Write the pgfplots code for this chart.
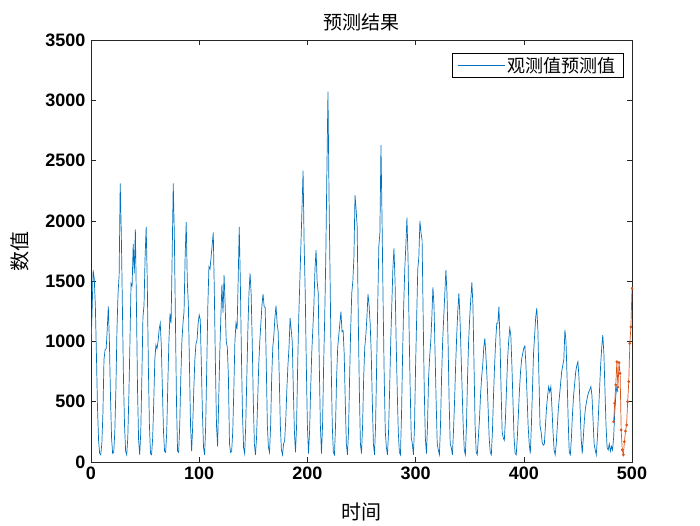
\documentclass[border=0pt]{standalone}
\usepackage{pgfplots}
\pgfplotsset{compat=1.18}
\usepackage{fontspec}
\setmainfont{Liberation Sans}
\newfontfamily\cjk{Noto Sans CJK SC}
\definecolor{mblue}{rgb}{0,0.447,0.741}
\definecolor{morange}{rgb}{0.85,0.325,0.098}
\begin{document}
\begin{tikzpicture}
\path[use as bounding box] (0,0) rectangle (700pt,525pt);
\begin{axis}[
  at={(91pt,63pt)}, anchor=south west,
  width=541pt, height=422pt, scale only axis,
  xmin=0, xmax=500, ymin=0, ymax=3500,
  xtick={0,100,...,500}, ytick={0,500,...,3500},
  tick align=inside, major tick length=5pt,
  axis line style={line width=0.6pt, black!85},
  every tick/.style={line width=0.6pt, black!85},
  /pgf/number format/assume math mode=true,
  /pgf/number format/1000 sep={},
  ticklabel style={font=\bfseries\fontsize{18}{18}\selectfont},
  xticklabel style={yshift=-1pt},
  yticklabel style={xshift=-2pt},
  title={\cjk 预测结果},
  every axis title/.style={at={(rel axis cs:0.5,1)}, yshift=18pt, anchor=center, font=\fontsize{19}{19}\selectfont},
  xlabel={\cjk 时间},
  every axis x label/.style={at={(rel axis cs:0.5,0)}, yshift=-50pt, anchor=center, font=\fontsize{20}{20}\selectfont},
  ylabel={\cjk 数值},
  every axis y label/.style={at={(rel axis cs:0,0.5)}, xshift=-71pt, rotate=90, anchor=center, font=\fontsize{20}{20}\selectfont},
  legend style={at={(0.985,0.970)}, anchor=north east, draw=black, line width=0.6pt, font=\cjk\fontsize{18}{18}\selectfont, inner xsep=6pt, inner ysep=2pt},
  legend cell align=left,
  legend image code/.code={\draw[mblue, line width=0.7pt] (0pt,0pt) -- (47pt,0pt);},
]
\addplot[mblue, line width=0.7pt, no marks] coordinates {
(0,950)(1,1250)(2,1590)(3,1520)(4,1300)(5,900)(6,450)(7,180)(8,70)(9,60)
(10,150)(11,400)(12,850)(13,930)(14,940)(15,1100)(16,1290)(17,1000)(18,550)(19,200)
(20,70)(21,80)(22,250)(23,600)(24,1100)(25,1400)(26,1550)(27,2310)(28,1900)(29,1300)
(30,700)(31,300)(32,90)(33,60)(34,200)(35,550)(36,1000)(37,1480)(38,1460)(39,1810)
(40,1565)(41,1930)(42,1300)(43,600)(44,180)(45,60)(46,250)(47,700)(48,1200)(49,1300)
(50,1700)(51,1950)(52,1500)(53,800)(54,300)(55,70)(56,60)(57,200)(58,500)(59,850)
(60,970)(61,940)(62,1000)(63,1100)(64,1150)(65,960)(66,600)(67,250)(68,90)(69,80)
(70,250)(71,650)(72,1000)(73,1230)(74,1150)(75,1700)(76,2310)(77,1900)(78,1200)(79,500)
(80,90)(81,80)(82,300)(83,700)(84,1000)(85,1150)(86,1250)(87,1700)(88,1990)(89,1500)
(90,1300)(91,800)(92,300)(93,90)(94,300)(95,600)(96,850)(97,980)(98,1010)(99,1150)
(100,1220)(101,1180)(102,800)(103,400)(104,120)(105,60)(106,300)(107,800)(108,1300)(109,1620)
(110,1600)(111,1700)(112,1800)(113,1905)(114,1400)(115,800)(116,300)(117,130)(118,500)(119,900)
(120,1200)(121,1470)(122,1240)(123,1550)(124,1300)(125,1000)(126,950)(127,700)(128,150)(129,80)
(130,90)(131,250)(132,600)(133,1000)(134,1150)(135,1100)(136,1500)(137,1950)(138,1500)(139,900)
(140,400)(141,120)(142,70)(143,300)(144,700)(145,1100)(146,1400)(147,1565)(148,1400)(149,1000)
(150,500)(151,150)(152,60)(153,200)(154,500)(155,800)(156,1000)(157,1150)(158,1300)(159,1393)
(160,1290)(161,1280)(162,800)(163,300)(164,120)(165,80)(166,300)(167,700)(168,950)(169,1050)
(170,1200)(171,1297)(172,1150)(173,1081)(174,700)(175,300)(176,100)(177,60)(178,150)(179,180)
(180,350)(181,600)(182,800)(183,950)(184,1194)(185,1100)(186,1000)(187,600)(188,250)(189,80)
(190,300)(191,800)(192,1200)(193,1500)(194,1800)(195,2100)(196,2416)(197,1800)(198,1400)(199,800)
(200,300)(201,70)(202,250)(203,600)(204,900)(205,1100)(206,1300)(207,1600)(208,1758)(209,1500)
(210,1400)(211,800)(212,300)(213,70)(214,300)(215,800)(216,1200)(217,1700)(218,2400)(219,3071)
(220,2200)(221,1500)(222,800)(223,300)(224,80)(225,60)(226,300)(227,700)(228,950)(229,1050)
(230,1150)(231,1247)(232,1081)(233,1090)(234,900)(235,500)(236,150)(237,60)(238,250)(239,700)
(240,1100)(241,1400)(242,1500)(243,1700)(244,2214)(245,2100)(246,1950)(247,1200)(248,600)(249,150)
(250,70)(251,300)(252,700)(253,950)(254,1050)(255,1200)(256,1393)(257,1300)(258,1150)(259,900)
(260,500)(261,150)(262,60)(263,300)(264,800)(265,1300)(266,1786)(267,1900)(268,2629)(269,2000)
(270,1300)(271,700)(272,250)(273,120)(274,60)(275,250)(276,600)(277,1000)(278,1300)(279,1600)
(280,1772)(281,1500)(282,1012)(283,600)(284,250)(285,80)(286,60)(287,400)(288,900)(289,1300)
(290,1600)(291,1800)(292,2026)(293,1700)(294,1100)(295,600)(296,200)(297,150)(298,60)(299,300)
(300,800)(301,1200)(302,1600)(303,1700)(304,1999)(305,1900)(306,1841)(307,1200)(308,600)(309,200)
(310,70)(311,300)(312,700)(313,873)(314,1000)(315,1200)(316,1449)(317,1300)(318,900)(319,500)
(320,150)(321,100)(322,60)(323,300)(324,700)(325,1000)(326,1200)(327,1400)(328,1592)(329,1400)
(330,1000)(331,500)(332,150)(333,120)(334,60)(335,250)(336,500)(337,800)(338,1050)(339,1250)
(340,1399)(341,1200)(342,900)(343,600)(344,300)(345,100)(346,60)(347,300)(348,700)(349,1000)
(350,1200)(351,1350)(352,1490)(353,1300)(354,800)(355,300)(356,80)(357,60)(358,200)(359,350)
(360,550)(361,700)(362,800)(363,950)(364,1026)(365,880)(366,700)(367,450)(368,200)(369,80)
(370,60)(371,250)(372,550)(373,800)(374,1000)(375,1150)(376,1150)(377,1288)(378,1000)(379,600)
(380,250)(381,200)(382,180)(383,350)(384,600)(385,850)(386,1000)(387,1109)(388,1050)(389,800)
(390,500)(391,200)(392,70)(393,60)(394,200)(395,400)(396,600)(397,750)(398,850)(399,900)
(400,945)(401,962)(402,800)(403,550)(404,300)(405,150)(406,70)(407,300)(408,600)(409,900)
(410,1050)(411,1200)(412,1275)(413,1100)(414,700)(415,300)(416,250)(417,160)(418,140)(419,150)
(420,300)(421,450)(422,550)(423,625)(424,580)(425,625)(426,450)(427,250)(428,100)(429,60)
(430,150)(431,300)(432,450)(433,550)(434,650)(435,750)(436,800)(437,850)(438,1095)(439,1000)
(440,700)(441,350)(442,80)(443,60)(444,200)(445,400)(446,550)(447,650)(448,750)(449,800)
(450,832)(451,700)(452,450)(453,200)(454,70)(455,200)(456,350)(457,450)(458,500)(459,550)
(460,580)(461,600)(462,625)(463,550)(464,350)(465,150)(466,100)(467,60)(468,200)(469,400)
(470,600)(471,800)(472,950)(473,1053)(474,900)(475,600)(476,300)(477,120)(478,100)(479,150)
(480,90)(481,130)(482,100)(483,200)(484,400)(485,550)(486,625)(487,580)
};
\addlegendentry{观测值预测值}
\addplot[morange, line width=0.7pt, mark=*, mark size=1pt, mark options={fill=morange, draw=morange}, forget plot] coordinates {
(483,334)(484,487)(485,639)(486,832)(487,620)(488,824)(489,735)(490,265)(491,100)
(492,60)(493,168)(494,257)(495,307)(496,500)(497,666)(498,984)(499,1120)(500,1441)
};
\end{axis}
\end{tikzpicture}
\end{document}
